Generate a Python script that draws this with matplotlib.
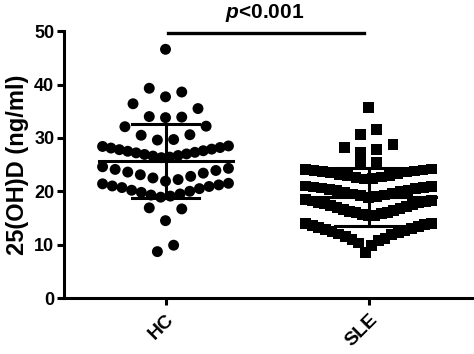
import numpy as np
import matplotlib
matplotlib.use("Agg")
import matplotlib.pyplot as plt

plt.rcParams['font.family'] = ['Liberation Sans', 'DejaVu Sans']
plt.rcParams['font.weight'] = 'bold'
plt.rcParams['mathtext.fontset'] = 'custom'
plt.rcParams['mathtext.it'] = 'Liberation Sans:bold:italic'
plt.rcParams['mathtext.rm'] = 'Liberation Sans:bold'

groups = ['HC', 'SLE']

# 25(OH)D values (ng/ml)
hc_values = [8.7, 9.9,
             14.5, 16.7, 16.9,
             18.9, 19.1, 19.3, 19.5, 19.8, 20.0, 20.2, 20.5, 20.7, 20.9, 21.0, 21.2, 21.4, 21.5,
             21.9, 22.2, 22.5, 22.8, 23.1, 23.4, 23.6, 23.9, 24.1, 24.3, 24.6,
             26.3, 26.4, 26.6, 26.7, 26.9, 27.0, 27.2, 27.3, 27.5, 27.6, 27.8, 27.9, 28.1, 28.2, 28.4, 28.5,
             29.6, 29.7, 30.5, 30.6, 32.1, 32.2,
             33.8, 33.9, 34.0, 35.5, 36.4,
             37.7, 38.6, 39.3,
             46.6]

sle_values = [8.6, 9.9, 10.3, 10.8, 11.0, 11.2, 11.6, 11.9, 12.0, 12.2, 12.5, 12.6, 12.8, 13.0, 13.2, 13.4,
              13.6, 13.8, 13.9, 14.0,
              15.4, 15.5, 15.6, 15.8, 16.0, 16.1, 16.2, 16.4, 16.6, 16.8, 16.9, 17.1, 17.3, 17.5, 17.6, 17.8,
              17.9, 18.1, 18.2, 18.3, 18.4,
              18.9, 19.0, 19.2, 19.3, 19.5, 19.6, 19.8, 19.9, 20.1, 20.2, 20.3, 20.5, 20.6, 20.7, 20.8, 20.9, 21.0,
              22.3, 22.4, 22.6, 22.7, 22.9, 23.0, 23.2, 23.3, 23.5, 23.6, 23.7, 23.8, 23.9, 24.0, 24.1, 24.2,
              25.3, 25.5,
              27.2, 27.8, 28.2, 28.8,
              30.7, 31.6,
              35.7]

p_text = '$p$<0.001'

# row edges used to lay the dots out in rows (GraphPad-like scatter)
hc_edges = [12, 18.5, 21.7, 25.5, 29.3, 33.5, 37.2, 42]
sle_edges = [14.7, 18.6, 21.8, 25.0, 26.5, 29.5, 33.0]


def row_offsets(values, edges, d=0.04, width=0.62):
    values = np.asarray(values, dtype=float)
    xs = np.zeros(len(values))
    rows = np.digitize(values, edges)
    for r in np.unique(rows):
        idx = np.where(rows == r)[0]
        idx = idx[np.argsort(values[idx])]
        n = len(idx)
        if n == 1:
            continue
        step = min(2 * d, width / (n - 1))
        if n % 2:
            order = [0] + [s * k for k in range(1, n) for s in (1, -1)]
        else:
            order = [s * (k - 0.5) for k in range(1, n) for s in (-1, 1)]
        xs[idx] = np.array(order[:n]) * step
    return xs


fig = plt.figure(figsize=(4.74, 3.54), dpi=100)
ax = fig.add_axes([0.135, 0.158, 0.861, 0.754])

hc = np.array(hc_values)
sle = np.array(sle_values)

ax.scatter(0 + row_offsets(hc, hc_edges), hc, s=62, marker='o', c='black', edgecolors='none', zorder=2)
ax.scatter(1 + row_offsets(sle, sle_edges), sle, s=60, marker='s', c='black', edgecolors='none', zorder=2)

# mean and SD bars
for i, v in enumerate([hc, sle]):
    m, sd = v.mean(), v.std(ddof=1)
    ax.plot([i - 0.33, i + 0.33], [m, m], color='black', lw=2.2, zorder=3)
    ax.plot([i, i], [m - sd, m + sd], color='black', lw=2.2, zorder=3)
    for y in (m - sd, m + sd):
        ax.plot([i - 0.165, i + 0.165], [y, y], color='black', lw=2.2, zorder=3)

# significance bar
ax.plot([0.01, 0.98], [49.6, 49.6], color='black', lw=2.4, clip_on=False)
ax.text(0.49, 52.4, p_text, ha='center', va='baseline', fontsize=15, fontweight='bold')

ax.set_xlim(-0.5, 1.51)
ax.set_ylim(0, 50)
ax.set_xticks([0, 1])
ax.set_xticklabels(groups, rotation=45, ha='right', va='top', rotation_mode='anchor',
                   fontsize=14, fontweight='bold')
ax.set_yticks(range(0, 51, 10))
ax.tick_params(axis='y', labelsize=13, width=2.2, length=5, pad=2)
ax.tick_params(axis='x', width=2.2, length=5, pad=4)
for lbl in ax.get_yticklabels():
    lbl.set_fontweight('bold')
ax.set_ylabel('25(OH)D (ng/ml)', fontsize=17, fontweight='bold', labelpad=4)

for side in ('top', 'right'):
    ax.spines[side].set_visible(False)
for side in ('left', 'bottom'):
    ax.spines[side].set_linewidth(2.2)

fig.savefig('out.png', dpi=100)
